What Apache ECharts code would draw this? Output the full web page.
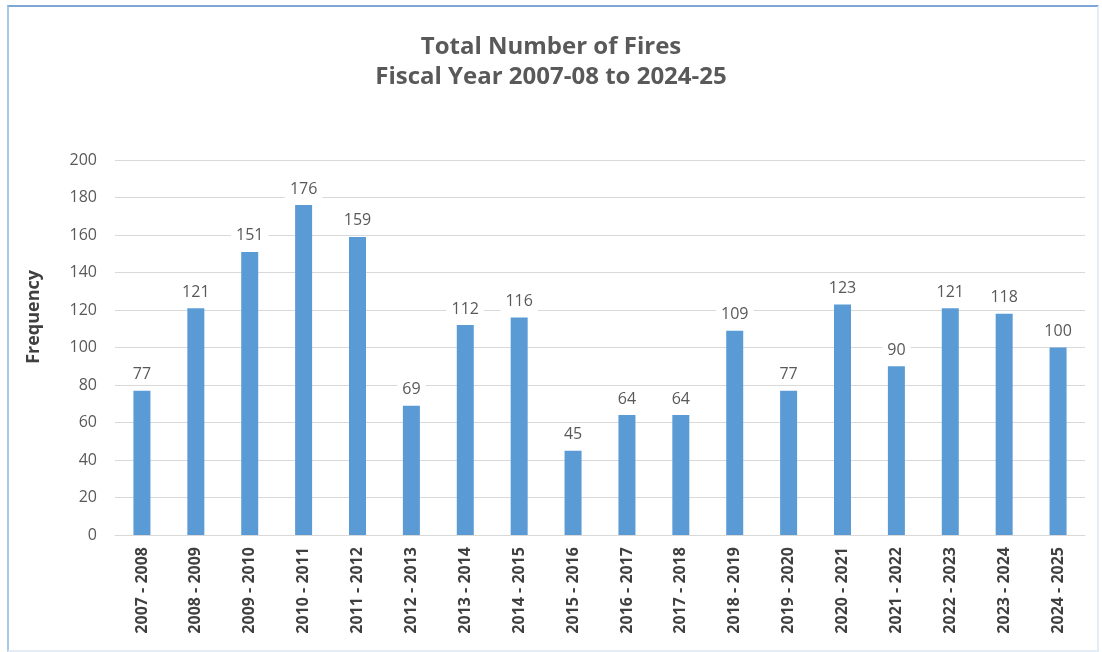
<!DOCTYPE html>
<html>
<head>
<meta charset="utf-8">
<script src="https://cdn.jsdelivr.net/npm/echarts@6/dist/echarts.min.js"></script>
<style>
html,body{margin:0;padding:0;background:#fff;}
#frame{position:absolute;left:7px;top:5px;width:1088px;height:643px;border:2px solid #a9c8ea;border-top-color:#7ea6d6;border-right-color:#e4edf7;border-bottom-color:#e4edf7;box-sizing:content-box;}
#main{position:absolute;left:0;top:0;width:1102px;height:652px;}
</style>
</head>
<body>
<div id="frame"></div>
<div id="main"></div>
<script>
const categories = ['2007 - 2008','2008 - 2009','2009 - 2010','2010 - 2011','2011 - 2012','2012 - 2013','2013 - 2014','2014 - 2015','2015 - 2016','2016 - 2017','2017 - 2018','2018 - 2019','2019 - 2020','2020 - 2021','2021 - 2022','2022 - 2023','2023 - 2024','2024 - 2025'];
const fires = [77,121,151,176,159,69,112,116,45,64,64,109,77,123,90,121,118,100];
const titleLines = ['Total Number of Fires','Fiscal Year 2007-08 to 2024-25'];
const yAxisName = 'Frequency';

const chart = echarts.init(document.getElementById('main'), null, {renderer:'canvas'});
chart.setOption({
  backgroundColor: 'transparent',
  animation: false,
  title: {
    text: titleLines.join('\n'),
    left: 'center',
    top: 27,
    textStyle: {fontFamily: 'Open Sans', fontWeight: 'bold', fontSize: 24, color: '#595959', lineHeight: 30}
  },
  graphic: [{
    type: 'text',
    left: 25,
    top: 270,
    rotation: Math.PI/2,
    style: {text: yAxisName, fontFamily: 'Open Sans', fontWeight: 'bold', fontSize: 18, fill: '#404040'}
  }],
  grid: {left: 115, right: 17, top: 160, bottom: 117},
  xAxis: {
    type: 'category',
    data: categories,
    axisLine: {lineStyle: {color: '#d9d9d9', width: 1}},
    axisTick: {show: false},
    axisLabel: {rotate: 90, margin: 12, fontFamily: 'Open Sans', fontWeight: 'bold', fontSize: 16, color: '#404040'}
  },
  yAxis: {
    type: 'value',
    min: 0, max: 200, interval: 20,
    axisLine: {show: false},
    axisTick: {show: false},
    splitLine: {lineStyle: {color: '#d9d9d9', width: 1}},
    axisLabel: {margin: 18, fontFamily: 'Open Sans', fontSize: 16, color: '#595959'}
  },
  series: [{
    type: 'bar',
    data: fires,
    barWidth: 17,
    itemStyle: {color: '#5b9bd5'},
    label: {
      show: true, position: 'top', distance: 6,
      fontFamily: 'Open Sans', fontSize: 16, color: '#595959',
      backgroundColor: '#ffffff', padding: [2, 5]
    }
  }]
});
</script>
</body>
</html>
